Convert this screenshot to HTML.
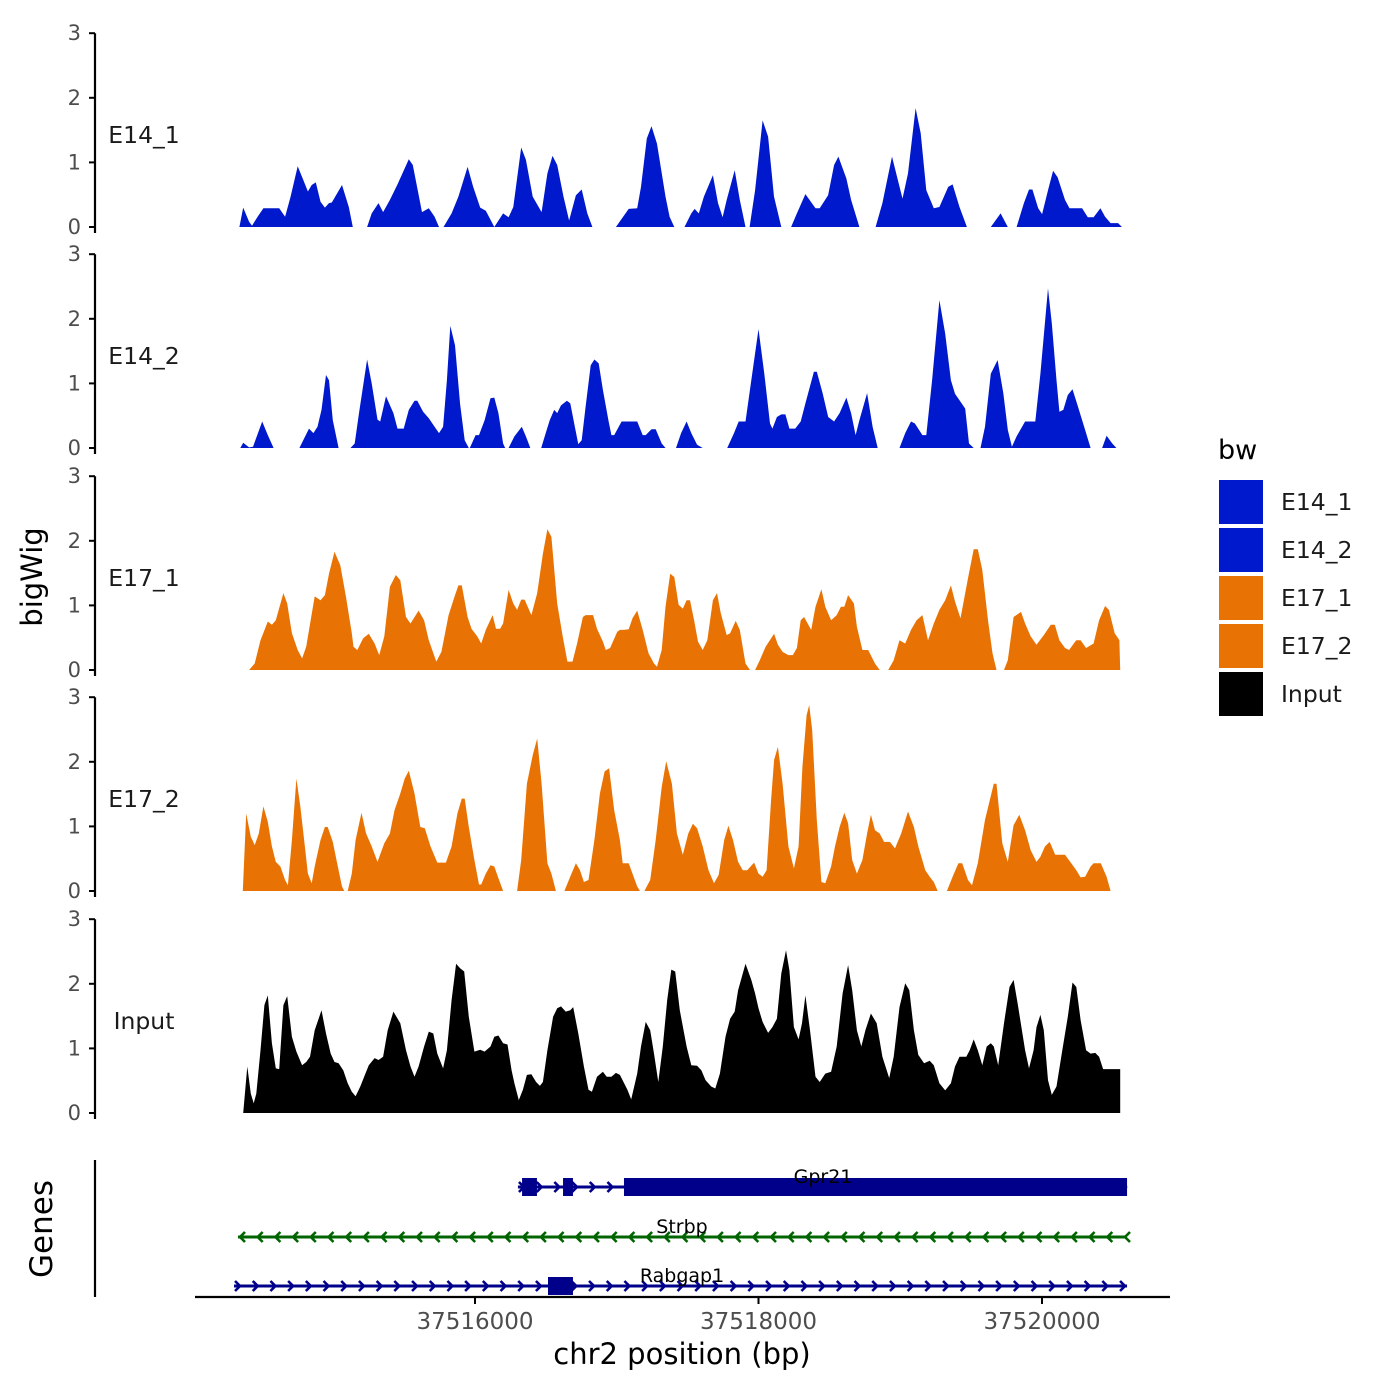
<!DOCTYPE html>
<html><head><meta charset="utf-8">
<style>
html,body{margin:0;padding:0;background:#fff;}
svg{display:block;font-family:"DejaVu Sans","Liberation Sans",sans-serif;}
</style></head>
<body>
<svg id="chart" width="1400" height="1400" viewBox="0 0 1400 1400" xmlns="http://www.w3.org/2000/svg">
<rect width="1400" height="1400" fill="#fff"/>
<g id="panels"></g>
<g id="genes"></g>
<g id="xaxis"></g>
<text x="42" y="577" transform="rotate(-90 42 577)" text-anchor="middle" font-size="29" fill="#000">bigWig</text>
<text x="52" y="1229" transform="rotate(-90 52 1229)" text-anchor="middle" font-size="31" fill="#000">Genes</text>
<text x="682" y="1364" text-anchor="middle" font-size="29" fill="#000">chr2 position (bp)</text>
<g id="legend"></g>
</svg>
<script>
// ---- data (positions are bp offsets from region start, values are signal) ----
const REGION_START = 37514340;
const seriesNames = ["E14_1","E14_2","E17_1","E17_2","Input"];
const seriesColors = ["#0019CC","#0019CC","#E87304","#E87304","#000000"];
const yTicks = [0,1,2,3];
const xTickValues = [37516000,37518000,37520000];
const xTickLabels = ["37516000","37518000","37520000"];

const e14_1_pos = [-2,25,66,87,126,167,279,320,359,409,448,481,508,537,570,601,630,650,722,770,798,null,
899,931,979,1012,1060,1113,1193,1221,1286,1334,1375,1406,null,
1438,1495,1543,1608,1647,1697,1736,1796,1858,1897,1930,1986,2019,2067,2130,2171,2207,2240,2284,2324,2372,2413,2452,2488,null,
2654,2744,2804,2831,2872,2905,2944,3004,3033,3066,null,
3138,3186,3209,3239,3275,3338,3374,3407,3436,3492,3528,3568,null,
3597,3636,3689,3728,3769,3821,null,
3890,3931,3991,4062,4092,4151,4193,4224,4280,4313,4372,null,
4486,4534,4602,4676,4715,4768,4804,4844,4897,4936,4998,5029,5078,5130,null,
5299,5368,5419,null,
5481,5532,5568,5592,5633,5661,5702,5738,5770,5822,5854,5943,5983,6024,6072,6105,6144,6197,6224];
const e14_1_val = [0,0.30,0.08,0.02,0.16,0.29,0.29,0.16,0.47,0.94,0.73,0.55,0.65,0.69,0.39,0.30,0.37,0.38,0.65,0.31,0,null,
0,0.21,0.37,0.23,0.42,0.66,1.05,0.96,0.23,0.29,0.16,0,null,
0,0.21,0.47,0.93,0.62,0.30,0.25,0,0.21,0.15,0.31,1.23,1.04,0.47,0.23,0.83,1.10,0.96,0.47,0.10,0.49,0.58,0.21,0,null,
0,0.28,0.29,0.62,1.37,1.56,1.29,0.47,0.16,0,null,
0,0.21,0.28,0.21,0.47,0.80,0.37,0.15,0.42,0.88,0.42,0,null,
0,0.57,1.65,1.40,0.47,0,null,
0,0.21,0.51,0.29,0.29,0.49,0.96,1.09,0.75,0.42,0,null,
0,0.37,1.09,0.44,0.83,1.84,1.45,0.57,0.29,0.31,0.62,0.66,0.31,0,null,
0,0.21,0,null,
0,0.37,0.58,0.58,0.29,0.20,0.57,0.87,0.77,0.42,0.29,0.29,0.15,0.15,0.29,0.16,0.06,0.06,0];

const e14_2_pos = [4,25,66,94,159,198,239,null,
421,489,520,549,577,609,630,657,698,null,
782,811,842,899,931,972,991,1032,1084,1113,1157,1193,1233,1253,1294,1334,1375,1406,1435,1462,1486,1519,1555,1587,1616,null,
1623,1664,1688,1728,1769,1796,1825,1858,1873,null,
1897,1938,1990,2019,2050,null,
2127,2159,2187,2219,2240,2267,2308,2332,2360,2389,2413,2440,2476,2502,2533,2562,2601,2622,2642,2694,2804,2843,2864,2905,2935,2977,3004,null,
3078,3114,3153,3186,3227,3266,null,
3439,3487,3520,3568,3609,3660,3701,3741,3758,3790,3821,3850,3878,3919,3958,3991,4051,4071,4112,4152,4193,4232,4280,4313,4345,4372,4426,4465,4501,null,
4655,4695,4736,4763,4816,4844,4885,4936,4977,5017,5046,5078,5118,5145,5178,null,
5226,5258,5299,5347,5387,5419,5448,5481,5541,5613,5649,5702,5729,5762,5783,5810,5842,5875,5914,5964,6003,null,
6084,6116,6156,6185];
const e14_2_val = [0,0.08,0.01,0.02,0.41,0.20,0,null,
0,0.30,0.23,0.33,0.59,1.13,1.05,0.43,0,null,
0,0.07,0.54,1.37,1.00,0.44,0.41,0.80,0.54,0.30,0.30,0.59,0.73,0.73,0.56,0.46,0.33,0.23,0.33,1.05,1.89,1.59,0.68,0.12,0,null,
0,0.20,0.20,0.43,0.77,0.78,0.54,0.07,0,null,
0,0.18,0.33,0.18,0,null,
0,0.23,0.43,0.59,0.54,0.66,0.73,0.69,0.38,0.06,0.12,0.64,1.28,1.37,1.31,0.90,0.43,0.20,0.20,0.41,0.41,0.20,0.20,0.29,0.29,0.07,0,null,
0,0.23,0.41,0.23,0.05,0,null,
0,0.23,0.41,0.41,1.05,1.84,1.15,0.38,0.30,0.48,0.52,0.52,0.30,0.30,0.41,0.69,1.18,1.18,0.85,0.48,0.41,0.54,0.78,0.54,0.20,0.43,0.85,0.33,0,null,
0,0.23,0.41,0.38,0.20,0.20,1.05,2.29,1.77,1.05,0.84,0.74,0.61,0.07,0,null,
0,0.33,1.15,1.36,0.85,0.28,0.02,0.18,0.41,0.41,1.15,2.47,1.93,1.05,0.56,0.59,0.82,0.91,0.64,0.28,0,null,
0,0.19,0.07,0];

const e17_1_pos = [66,106,147,198,227,255,308,335,368,409,440,469,529,570,601,630,669,710,750,791,803,830,871,911,952,984,1020,1060,1101,1133,1173,1205,1262,1301,1334,1387,1423,1474,1515,1543,1567,1608,1635,1676,1704,1736,1784,1808,1837,1858,1897,1930,1957,1986,2010,2058,2099,2139,2171,2199,2240,2279,2312,2348,2380,2421,2440,2493,2521,2562,2583,2613,2663,2682,2711,2744,2771,2804,2843,2884,2923,2944,2977,3004,3037,3066,3096,3126,3153,3177,3206,3233,3266,3299,3338,3367,3394,3436,3460,3499,3528,3568,3600,null,
3636,3669,3710,3770,3797,3830,3871,3902,3931,3958,3982,4032,4062,4104,4131,4172,4212,4241,4265,4292,4333,4354,4393,4434,4482,4515,null,
4575,4614,4655,4695,4736,4775,4816,4856,4897,4936,4977,5017,5046,5085,5138,5178,5207,5239,5279,5311,5339,null,
5392,5419,5460,5512,5541,5580,5621,5673,5722,5750,5783,5822,5851,5884,5902,5932,5971,6024,6063,6105,6132,6173,6206,6212];
const e17_1_val = [0,0.10,0.46,0.75,0.70,0.77,1.19,1.03,0.57,0.31,0.18,0.36,1.14,1.08,1.16,1.49,1.83,1.62,1.13,0.57,0.36,0.31,0.49,0.56,0.41,0.23,0.52,1.29,1.47,1.39,0.82,0.72,0.92,0.77,0.46,0.13,0.28,0.85,1.13,1.31,1.31,0.82,0.64,0.52,0.41,0.62,0.85,0.64,0.64,0.72,1.24,1.03,0.93,1.09,1.09,0.85,1.19,1.80,2.18,2.06,1.03,0.52,0.13,0.13,0.41,0.82,0.85,0.85,0.64,0.44,0.31,0.34,0.59,0.62,0.62,0.63,0.80,0.92,0.62,0.26,0.10,0.05,0.31,0.98,1.49,1.44,1.01,0.95,1.08,1.08,0.77,0.44,0.31,0.46,1.08,1.19,0.88,0.54,0.57,0.76,0.62,0.10,0,null,
0,0.15,0.36,0.56,0.39,0.28,0.23,0.23,0.34,0.77,0.82,0.62,0.98,1.25,0.98,0.77,0.85,0.98,0.98,1.16,1.03,0.67,0.31,0.31,0.10,0,null,
0,0.15,0.46,0.41,0.62,0.77,0.85,0.46,0.72,0.93,1.08,1.31,1.06,0.80,1.42,1.87,1.87,1.55,0.77,0.26,0,null,
0,0.15,0.82,0.90,0.72,0.52,0.39,0.54,0.70,0.70,0.46,0.34,0.31,0.41,0.46,0.46,0.34,0.41,0.77,0.99,0.93,0.57,0.46,0];

const e17_2_pos = [22,46,78,106,135,167,198,227,255,287,320,340,368,400,428,457,481,508,529,570,601,621,657,698,722,738,null,
762,791,818,859,892,931,972,1020,1060,1092,1133,1164,1193,1233,1274,1306,1346,1394,1455,1495,1536,1567,1587,1616,1656,1688,1704,1736,1769,1796,1825,1858,null,
1957,1986,2026,2067,2099,2130,2171,2199,2231,null,
2291,2341,2372,2401,2428,2461,2502,2541,2574,2606,2642,2682,2702,2744,2771,2804,2824,null,
2855,2896,2935,2977,3009,3049,3084,3126,3165,3197,3227,3266,3307,3346,3379,3418,3448,3480,3516,3549,3580,3629,3660,3689,3717,3749,3770,3797,3830,3871,3910,3943,3970,3999,4018,4039,4071,4104,4131,4172,4200,4232,4265,4292,4321,4354,4393,4426,4453,4482,4515,4546,4587,4623,4667,4715,4756,4787,4837,4868,4897,4924,null,
4989,5029,5070,5097,5138,5166,5207,5258,5320,5339,5380,5419,5460,5500,5541,5580,5621,5649,5681,5714,5753,5822,5863,5902,5932,5964,6003,6024,6075,6116,6144];
const e17_2_val = [0,1.20,0.84,0.71,0.89,1.31,1.07,0.69,0.45,0.38,0.17,0.09,0.79,1.74,1.30,0.74,0.27,0.12,0.38,0.79,0.99,0.99,0.76,0.32,0.07,0,null,
0,0.27,0.79,1.21,0.89,0.69,0.45,0.74,0.89,1.25,1.51,1.74,1.86,1.51,0.99,0.97,0.69,0.44,0.44,0.69,1.20,1.43,1.43,0.99,0.48,0.10,0.10,0.27,0.40,0.38,0.20,0,null,
0,0.48,1.66,2.10,2.36,1.66,0.43,0.27,0,null,
0,0.27,0.43,0.32,0.14,0.17,0.79,1.51,1.85,1.90,1.25,0.79,0.43,0.43,0.27,0.07,0,null,
0,0.17,0.79,1.61,2.01,1.66,0.89,0.56,0.89,1.04,0.97,0.69,0.32,0.12,0.25,0.79,1.01,0.79,0.45,0.32,0.32,0.44,0.27,0.22,0.32,1.41,2.03,2.23,1.66,0.69,0.35,0.69,1.92,2.72,2.88,2.49,1.10,0.14,0.12,0.38,0.69,0.99,1.21,1.05,0.48,0.27,0.48,0.89,1.18,0.94,0.89,0.76,0.76,0.66,0.89,1.23,0.99,0.69,0.32,0.22,0.14,0,null,
0,0.22,0.43,0.43,0.17,0.09,0.43,1.10,1.66,1.66,0.74,0.45,1.02,1.18,0.94,0.63,0.45,0.53,0.69,0.76,0.56,0.56,0.44,0.32,0.21,0.22,0.38,0.43,0.43,0.22,0];

const input_pos = [25,54,78,99,117,147,174,198,227,255,279,308,335,368,400,440,469,496,529,577,609,642,669,698,731,762,791,818,851,883,911,952,979,1012,1044,1084,1133,1173,1205,1233,1262,1301,1334,1366,1394,1435,1462,1495,1527,1555,1584,1616,1656,1697,1728,1769,1796,1825,1858,1889,1918,1938,1969,1998,2026,2058,2091,2118,2139,2171,2211,2240,2267,2300,2332,2353,2389,2428,2461,2485,2521,2562,2589,2622,2654,2682,2735,2762,2804,2831,2864,2896,2923,2953,2985,3016,3045,3072,3105,3153,3186,3227,3257,3286,3326,3355,3388,3427,3460,3492,3516,3568,3609,3636,3660,3689,3728,3758,3790,3821,3854,3878,3910,3943,3967,3991,4023,4062,4092,4131,4172,4212,4253,4292,4321,4354,4385,4414,4453,4494,4534,4582,4614,4655,4695,4724,4756,4787,4828,4868,4897,4936,4977,5017,5046,5078,5126,5150,5178,5207,5239,5270,5299,5320,5351,5392,5431,5460,5488,5541,5568,5601,5621,5649,5673,5702,5729,5762,5803,5842,5875,5902,5932,5971,6003,6036,6063,6091,6212];
const input_val = [0,0.72,0.30,0.15,0.30,0.97,1.67,1.82,1.08,0.69,0.68,1.67,1.81,1.18,0.95,0.74,0.79,0.87,1.28,1.59,1.23,0.92,0.79,0.77,0.66,0.46,0.33,0.26,0.41,0.59,0.74,0.85,0.82,0.87,1.28,1.57,1.39,0.97,0.72,0.56,0.72,1.03,1.26,1.23,0.92,0.69,0.97,1.75,2.31,2.24,2.19,1.49,0.95,0.98,0.95,1.03,1.18,1.20,1.08,1.06,0.66,0.46,0.20,0.36,0.59,0.60,0.48,0.42,0.48,0.97,1.49,1.62,1.65,1.57,1.59,1.64,1.23,0.72,0.36,0.33,0.56,0.64,0.56,0.56,0.62,0.59,0.36,0.21,0.61,1.03,1.41,1.28,0.92,0.48,1.03,1.75,2.22,2.19,1.59,1.03,0.74,0.73,0.66,0.51,0.41,0.38,0.61,1.18,1.46,1.57,1.90,2.31,2.06,1.85,1.62,1.41,1.24,1.33,1.46,2.16,2.52,2.21,1.33,1.14,1.39,1.82,1.28,0.56,0.48,0.61,0.64,1.03,1.85,2.29,1.90,1.28,1.03,1.28,1.54,1.39,0.87,0.54,0.87,1.64,2.01,1.90,1.28,0.90,0.77,0.81,0.74,0.46,0.35,0.46,0.72,0.87,0.87,0.97,1.14,0.97,0.74,1.03,1.08,1.03,0.74,1.39,1.95,2.06,1.70,0.97,0.69,0.97,1.33,1.52,1.28,0.51,0.28,0.41,0.97,1.49,2.02,1.95,1.44,0.97,0.92,0.93,0.87,0.68,0.68];

const seriesPos = [e14_1_pos,e14_2_pos,e17_1_pos,e17_2_pos,input_pos];
const seriesVal = [e14_1_val,e14_2_val,e17_1_val,e17_2_val,input_val];

// genes
const geneNames = ["Gpr21","Strbp","Rabgap1"];
const geneStarts = [37516303,37514328,37514300];
const geneEnds = [37520600,37520600,37520600];
const geneStrands = ["+","-","+"];
const geneColors = ["#00008B","#006400","#00008B"];
const geneExonStarts = [[37516332,37516621,37517051],[],[37516515]];
const geneExonEnds = [[37516437,37516691,37520600],[],[37516691]];

// ---- scales ----
const NS = "http://www.w3.org/2000/svg";
function xScale(bp){ return 475 + (bp - 37516000) * 0.141750; }
const panelBase = [227,448,670,891,1113];
const unitPx = 64.6;
function yScale(i,v){ return panelBase[i] - v*unitPx; }
function mk(tag, attrs, parent){ const e=document.createElementNS(NS,tag); for(const k in attrs) e.setAttribute(k,attrs[k]); parent.appendChild(e); return e; }

const panels = document.getElementById('panels');
seriesNames.forEach((name,i)=>{
  const g = mk('g',{},panels);
  
  
  const ax = mk('line',{x1:95,x2:95,y1:yScale(i,3),y2:panelBase[i]+6,stroke:'#000','stroke-width':2.2},g);
  
  
  yTicks.forEach(t=>{
    const y = yScale(i,t);
    const tk = mk('line',{x1:89,x2:95,y1:y,y2:y,stroke:'#000','stroke-width':2},g);
    
    
    const tl = mk('text',{x:81,y:y+7,'text-anchor':'end','font-size':21,fill:'#4d4d4d'},g);
    tl.textContent = String(t);
    
    
  });
  const lab = mk('text',{x:144,y:panelBase[i]-84,'text-anchor':'middle','font-size':23.5,fill:'#1a1a1a'},g);
  lab.textContent = name;
  
  
  const P = seriesPos[i], V = seriesVal[i];
  let seg = [];
  const flush = ()=>{
    if(seg.length<2){ seg=[]; return; }
    let d = 'M'+xScale(REGION_START+seg[0][0]).toFixed(1)+','+panelBase[i];
    seg.forEach(p=>{ d += 'L'+xScale(REGION_START+p[0]).toFixed(1)+','+yScale(i,p[1]).toFixed(1); });
    d += 'L'+xScale(REGION_START+seg[seg.length-1][0]).toFixed(1)+','+panelBase[i]+'Z';
    const a = mk('path',{d:d,fill:seriesColors[i]},g);
    
    
    seg=[];
  };
  for(let k=0;k<P.length;k++){
    if(P[k]===null){ flush(); continue; }
    seg.push([P[k],V[k]]);
  }
  flush();
});

// genes
const gg = document.getElementById('genes');
const gax = mk('line',{x1:95,x2:95,y1:1160,y2:1297,stroke:'#000','stroke-width':2.2},gg);


const geneY = [1187,1237,1286];
geneNames.forEach((gn,i)=>{
  const g = mk('g',{},gg);
  
  
  const x0 = xScale(geneStarts[i]), x1 = xScale(geneEnds[i]), y = geneY[i], c = geneColors[i];
  mk('line',{x1:x0,x2:x1,y1:y,y2:y,stroke:c,'stroke-width':3},g);
  for(let x=x0+4; x<=x1+1; x+=17.7){
    const d = geneStrands[i]==='+' ? `M${x-3},${y-5}L${x+2},${y}L${x-3},${y+5}` : `M${x+3},${y-5}L${x-2},${y}L${x+3},${y+5}`;
    mk('path',{d:d,stroke:c,'stroke-width':2.6,fill:'none'},g);
  }
  geneExonStarts[i].forEach((s,k)=>{
    const ex = mk('rect',{x:xScale(s),y:y-9,width:xScale(geneExonEnds[i][k])-xScale(s),height:18,fill:c},g);
    
    
  });
  const t = mk('text',{x:(i===0?823:682),y:y-4,'text-anchor':'middle','font-size':19,fill:'#000'},g);
  t.textContent = gn;
  
  
});

// x axis
const xa = document.getElementById('xaxis');
mk('line',{x1:195,x2:1170,y1:1297,y2:1297,stroke:'#000','stroke-width':2.2},xa);
xTickValues.forEach((v,k)=>{
  const x = xScale(v);
  const tk = mk('line',{x1:x,x2:x,y1:1297,y2:1304,stroke:'#000','stroke-width':2},xa);
  
  
  const tl = mk('text',{x:x,y:1329,'text-anchor':'middle','font-size':23,fill:'#4d4d4d'},xa);
  tl.textContent = xTickLabels[k];
  
  
});

// legend
const lg = document.getElementById('legend');
const lt = mk('text',{x:1218,y:459,'font-size':27,fill:'#000'},lg);
lt.textContent = 'bw';


seriesNames.forEach((n,i)=>{
  const y = 480 + i*48;
  const r = mk('rect',{x:1219,y:y,width:44,height:44,fill:seriesColors[i]},lg);
  
  
  const t = mk('text',{x:1281,y:y+30,'font-size':23.5,fill:'#1a1a1a'},lg);
  t.textContent = n;
  
  
});
</script>
</body></html>
